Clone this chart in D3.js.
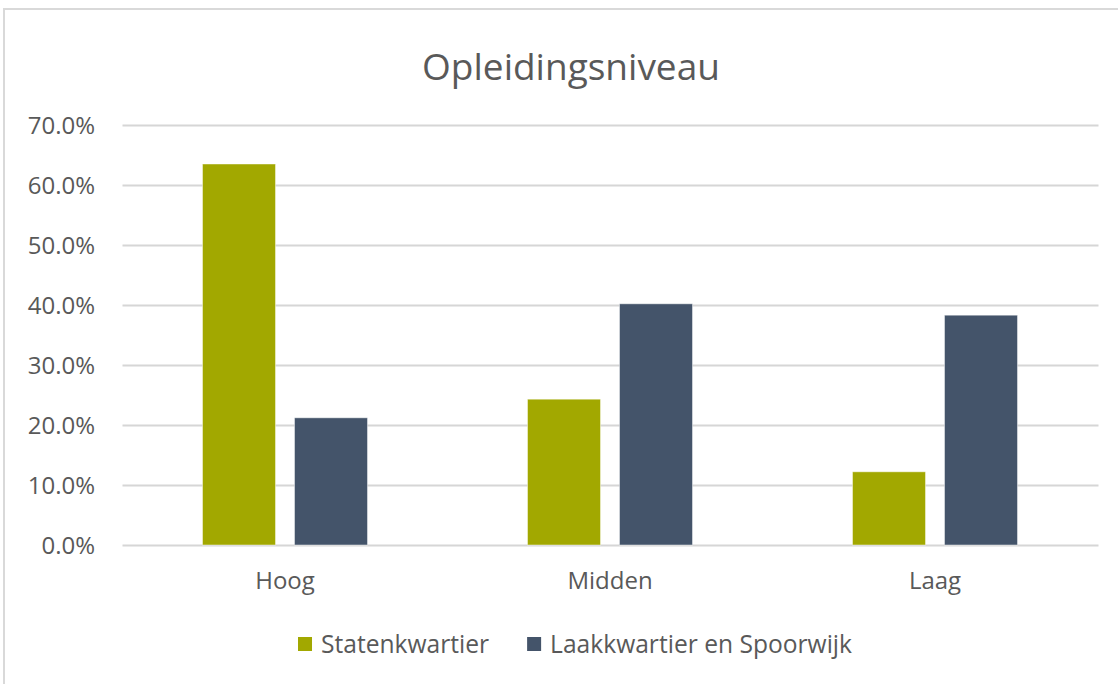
<!DOCTYPE html>
<html>
<head>
<meta charset="utf-8">
<script src="https://cdn.jsdelivr.net/npm/d3@7/dist/d3.min.js"></script>
<style>
  html, body { margin: 0; padding: 0; background: #fff; }
  svg { display: block; font-family: "Open Sans", sans-serif; }
</style>
</head>
<body>
<svg id="chart" width="1118" height="684"></svg>
<script>
const title = "Opleidingsniveau";
const categories = ["Hoog", "Midden", "Laag"];
const seriesNames = ["Statenkwartier", "Laakkwartier en Spoorwijk"];
const statenkwartier = [0.635, 0.243, 0.122];
const laakkwartier = [0.212, 0.402, 0.383];
const yTicks = [0, 0.1, 0.2, 0.3, 0.4, 0.5, 0.6, 0.7];
const colors = ["#A2A800", "#44546A"];

(function () {
const seriesValues = [statenkwartier, laakkwartier];
const data = categories.map((c, i) => ({
  cat: c,
  vals: seriesNames.map((s, j) => ({ series: s, idx: j, value: seriesValues[j][i] }))
}));

const svg = d3.select("#chart");
const textColor = "#595959";

// outer chart border
svg.append("rect")
  .attr("x", 4).attr("y", 9)
  .attr("width", 1130).attr("height", 690)
  .attr("fill", "#fff")
  .attr("stroke", "#d9d9d9").attr("stroke-width", 2);

const plotLeft = 122.5, plotRight = 1097.5, plotTop = 125, plotBottom = 545;

const y = d3.scaleLinear().domain([0, 0.7]).range([plotBottom, plotTop]);
const x0 = d3.scaleBand().domain(categories).range([plotLeft, plotRight])
  .paddingInner(160 / 325).paddingOuter(80 / 325);
const x1 = d3.scaleBand().domain(seriesNames).range([0, x0.bandwidth()])
  .paddingInner(0.2065).paddingOuter(0);

// title
svg.append("text")
  .attr("x", 571).attr("y", 80)
  .attr("text-anchor", "middle")
  .attr("font-size", 37)
  .attr("fill", textColor)
  .text(title);

// gridlines
svg.append("g")
  .selectAll("line")
  .data(yTicks)
  .join("line")
  .attr("x1", plotLeft).attr("x2", plotRight + 1)
  .attr("y1", d => Math.round(y(d)) + 0.5)
  .attr("y2", d => Math.round(y(d)) + 0.5)
  .attr("stroke", "#d6d6d6").attr("stroke-width", 2);

// y axis labels
const fmt = d3.format(".1%");
const yAxis = d3.axisLeft(y).tickValues(yTicks).tickFormat(fmt).tickSize(0).tickPadding(0);
const gy = svg.append("g").attr("transform", "translate(95,0)").call(yAxis);
gy.select(".domain").remove();
gy.selectAll("text")
  .attr("font-family", "Open Sans, sans-serif")
  .attr("font-size", 24)
  .attr("fill", textColor)
  .attr("dy", "0.36em");

// bars
const groups = svg.append("g")
  .selectAll("g")
  .data(data)
  .join("g")
  .attr("transform", d => `translate(${x0(d.cat)},0)`);

groups.selectAll("rect")
  .data(d => d.vals)
  .join("rect")
  .attr("x", d => x1(d.series))
  .attr("width", x1.bandwidth())
  .attr("y", d => y(d.value))
  .attr("height", d => y(0) - y(d.value))
  .attr("fill", d => colors[d.idx])
  .attr("stroke", "rgba(255,255,255,0.45)")
  .attr("stroke-width", 1);

// category labels
const xAxis = d3.axisBottom(x0).tickSize(0).tickPadding(0);
const gx = svg.append("g").attr("transform", "translate(0,589)").call(xAxis);
gx.select(".domain").remove();
gx.selectAll("text")
  .attr("font-family", "Open Sans, sans-serif")
  .attr("font-size", 24)
  .attr("fill", textColor)
  .attr("dy", 0)
  .attr("y", 0);

// legend
const legend = svg.append("g");
const items = legend.selectAll("g")
  .data(seriesNames)
  .join("g");
items.append("rect")
  .attr("width", 14).attr("height", 14)
  .attr("y", 637)
  .attr("fill", (d, i) => colors[i]);
items.append("text")
  .attr("x", 23).attr("y", 653)
  .attr("font-size", 24.6)
  .attr("fill", textColor)
  .text(d => d);

const gap = 38;
const widths = [];
items.each(function() {
  widths.push(this.querySelector("text").getComputedTextLength() + 23);
});
const total = widths.reduce((a, b) => a + b, 0) + gap * (widths.length - 1);
let cx = 575 - total / 2;
items.each(function(d, i) {
  d3.select(this).attr("transform", `translate(${cx},0)`);
  cx += widths[i] + gap;
});
})();
</script>
</body>
</html>
